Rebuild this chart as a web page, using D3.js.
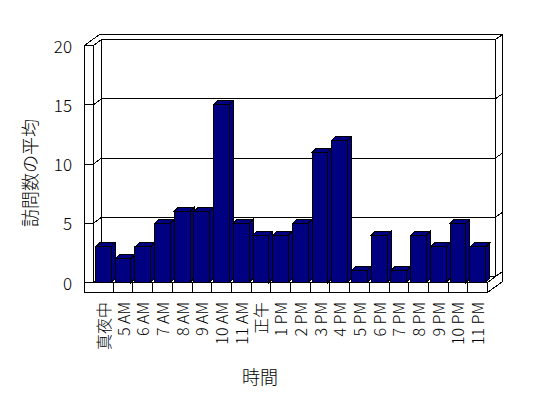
<!DOCTYPE html>
<html>
<head>
<meta charset="utf-8">
<script src="https://cdn.jsdelivr.net/npm/d3@7"></script>
<style>
  body { margin: 0; background: #fff; }
  svg { display: block; }
  text { font-family: "Noto Sans CJK JP", sans-serif; font-weight: 300; fill: #000; }
</style>
</head>
<body>
<div id="chart"></div>
<script>
var categories = ["真夜中", "5 AM", "6 AM", "7 AM", "8 AM", "9 AM", "10 AM", "11 AM", "正午",
  "1 PM", "2 PM", "3 PM", "4 PM", "5 PM", "6 PM", "7 PM", "8 PM", "9 PM", "10 PM", "11 PM"];
var values = [3, 2, 3, 5, 6, 6, 15, 5, 4, 4, 5, 11, 12, 1, 4, 1, 4, 3, 5, 3];
var yTicks = [0, 5, 10, 15, 20];
var yTitle = "訪問数の平均";
var xTitle = "時間";

var width = 548, height = 398;
var wallLeft = 84, x0 = 93, x1 = 487, floorBot = 292;
// depth offsets (oblique 3d)
var dIn = [8, -6], dOut = [15, -11], dBar = [4, -4];

var svg = d3.select('#chart').append('svg').attr('width', width).attr('height', height);
svg.append('rect').attr('width', width).attr('height', height).attr('fill', '#fff');

var g = svg.append('g').attr('transform', 'translate(0.5,0.5)')
  .attr('stroke', '#000').attr('stroke-width', 1).attr('shape-rendering', 'crispEdges');

var y = d3.scaleLinear().domain([0, 20]).range([282, 45]);
var x = d3.scaleBand().domain(categories).range([x0, x1]).paddingInner(0).paddingOuter(0);
var xb = d3.scaleBand().domain(categories).range([x0, x1]).paddingInner(0.2).paddingOuter(0.1);

var yTop = y(20), yBase = y(0);
function pts(a) { return a.map(function(p){ return p.join(','); }).join(' '); }
function poly(a, fill) {
  g.append('polygon').attr('points', pts(a)).attr('fill', fill || '#fff');
}

// walls and floor
poly([[x0 + dIn[0], yTop + dIn[1]], [x1 + dIn[0], yTop + dIn[1]], [x1 + dIn[0], yBase + dIn[1]], [x0 + dIn[0], yBase + dIn[1]]]);
poly([[x0, yTop], [x0 + dIn[0], yTop + dIn[1]], [x0 + dIn[0], yBase + dIn[1]], [x0, yBase]]);
poly([[x0, yBase], [x1, yBase], [x1 + dIn[0], yBase + dIn[1]], [x0 + dIn[0], yBase + dIn[1]]]);
poly([[wallLeft, yTop], [x0, yTop], [x0 + dIn[0], yTop + dIn[1]], [x1 + dIn[0], yTop + dIn[1]],
  [x1 + dOut[0], yTop + dOut[1]], [wallLeft + dOut[0], yTop + dOut[1]]]);
poly([[x1, yBase], [x1 + dIn[0], yBase + dIn[1]], [x1 + dIn[0], yTop + dIn[1]],
  [x1 + dOut[0], yTop + dOut[1]], [x1 + dOut[0], floorBot + dOut[1]], [x1, floorBot]]);
poly([[wallLeft, yTop], [x0, yTop], [x0, yBase], [x1, yBase], [x1, floorBot], [wallLeft, floorBot]]);

// gridlines
yTicks.forEach(function(v) {
  var yy = y(v);
  g.append('polyline').attr('fill', 'none')
    .attr('points', pts([[wallLeft, yy], [x0, yy], [x0 + dIn[0], yy + dIn[1]], [x1 + dIn[0], yy + dIn[1]],
      [x1 + dOut[0], yy + dOut[1]]]));
});

// category ticks on floor front
categories.slice(1).forEach(function(c) {
  g.append('line').attr('x1', x(c)).attr('x2', x(c)).attr('y1', yBase).attr('y2', floorBot);
});

// bars
categories.forEach(function(c, i) {
  var bx = xb(c), bw = xb.bandwidth(), by = y(values[i]);
  var grp = g.append('g').attr('fill', '#000080');
  grp.append('polygon').attr('points', pts([[bx, by], [bx + bw, by], [bx + bw + dBar[0], by + dBar[1]], [bx + dBar[0], by + dBar[1]]]));
  grp.append('polygon').attr('points', pts([[bx + bw, by], [bx + bw + dBar[0], by + dBar[1]], [bx + bw + dBar[0], yBase + dBar[1]], [bx + bw, yBase]]));
  grp.append('rect').attr('x', bx).attr('y', by).attr('width', bw).attr('height', yBase - by);
});

// y tick labels
svg.selectAll('.ylab').data(yTicks).enter().append('text')
  .attr('x', 72).attr('y', function(d){ return y(d); })
  .attr('text-anchor', 'end').attr('dominant-baseline', 'central')
  .style('font-size', '17px').text(function(d){ return d; });

// x tick labels
svg.selectAll('.xlab').data(categories).enter().append('text')
  .attr('transform', function(d){ return 'translate(' + (x(d) + x.bandwidth() / 2) + ',302) rotate(-90)'; })
  .attr('text-anchor', 'end').attr('dominant-baseline', 'central')
  .style('font-size', '16px').text(function(d){ return d; });

// titles
svg.append('text').attr('transform', 'translate(29,173) rotate(-90)')
  .attr('text-anchor', 'middle').attr('dominant-baseline', 'central')
  .style('font-size', '18px').text(yTitle);
svg.append('text').attr('x', 260).attr('y', 376)
  .attr('text-anchor', 'middle').attr('dominant-baseline', 'central')
  .style('font-size', '18px').text(xTitle);
</script>
</body>
</html>
